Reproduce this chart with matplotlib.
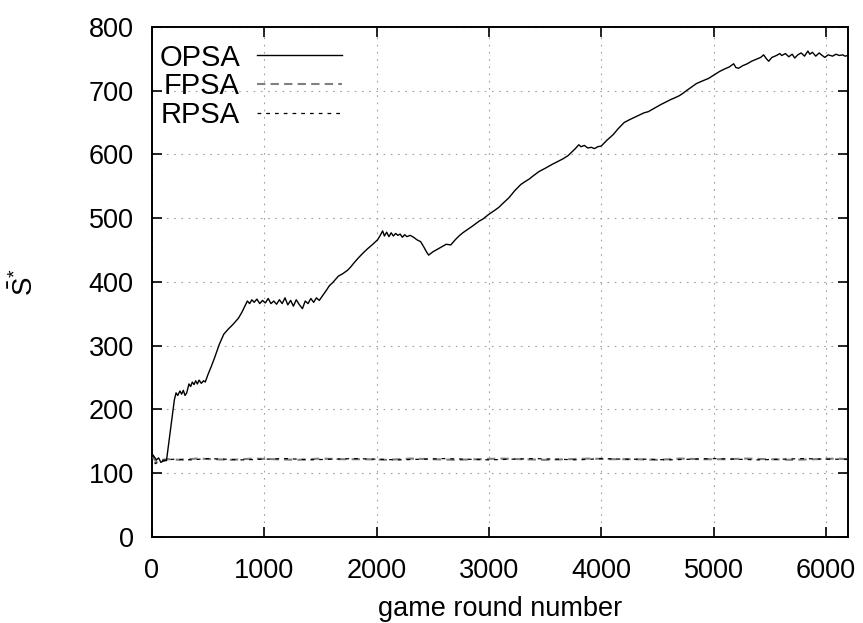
import matplotlib
matplotlib.use("Agg")
import matplotlib.pyplot as plt

plt.rcParams['font.family'] = ['Liberation Sans', 'DejaVu Sans']
plt.rcParams['mathtext.fontset'] = 'custom'
plt.rcParams['mathtext.rm'] = 'Liberation Sans'
plt.rcParams['mathtext.it'] = 'Liberation Sans'

# --- series: average score per game round ---
opsa_x = [0, 20, 40, 60, 80, 100, 130, 170, 200, 215, 230, 250, 265, 280, 295, 310,
          330, 345, 360, 375, 390, 405, 420, 440, 460, 475, 500, 530, 560, 600, 640,
          680, 720, 770, 800, 830, 850, 870, 890, 910, 935, 960, 985, 1010, 1035,
          1060, 1085, 1110, 1135, 1160, 1185, 1210, 1235, 1260, 1285, 1310, 1340,
          1365, 1390, 1415, 1440, 1465, 1490, 1518, 1550, 1580, 1610, 1640, 1660,
          1700, 1740, 1768, 1800, 1840, 1884, 1920, 1960, 2009, 2030, 2054, 2070,
          2090, 2110, 2130, 2150, 2170, 2190, 2210, 2230, 2250, 2270, 2300, 2330,
          2360, 2393, 2420, 2445, 2464, 2500, 2540, 2580, 2620, 2661, 2700, 2740,
          2768, 2800, 2850, 2911, 2950, 3000, 3050, 3089, 3130, 3179, 3230, 3286,
          3320, 3357, 3400, 3446, 3500, 3560, 3616, 3660, 3705, 3740, 3770, 3800,
          3820, 3850, 3880, 3911, 3940, 3970, 4000, 4050, 4107, 4150, 4205, 4260,
          4320, 4380, 4420, 4480, 4530, 4563, 4620, 4660, 4696, 4730, 4760, 4800,
          4848, 4900, 4955, 5000, 5054, 5100, 5140, 5179, 5200, 5223, 5260, 5300,
          5339, 5380, 5420, 5446, 5470, 5491, 5520, 5560, 5590, 5607, 5640, 5670,
          5700, 5723, 5750, 5780, 5810, 5840, 5857, 5880, 5910, 5940, 5960, 5991,
          6020, 6060, 6090, 6120, 6150, 6170, 6200]
opsa_y = [131, 126, 121, 124, 117, 119, 120, 175, 215, 226, 222, 229, 224, 230, 222, 226,
          240, 236, 243, 239, 245, 240, 246, 241, 245, 243, 255, 268, 282, 302, 318,
          326, 333, 343, 352, 363, 370, 366, 372, 368, 373, 366, 371, 367, 374,
          366, 370, 365, 372, 366, 375, 364, 371, 362, 372, 365, 358,
          370, 366, 374, 368, 375, 371, 378, 386, 394, 399, 405, 409,
          413, 418, 423, 430, 438, 446, 452, 458, 466, 472, 480, 472,
          478, 471, 477, 472, 476, 473, 475, 470, 474, 471, 473, 470,
          466, 463, 455, 447, 442, 447, 451, 455, 459, 458, 466, 473,
          477, 481, 487, 495, 499, 506, 512, 517, 524, 532, 543, 553,
          557, 561, 567, 573, 578, 584, 589, 593, 598, 604, 609, 615,
          612, 614, 610, 611, 609, 612, 613, 622, 631, 640, 650, 655,
          660, 665, 667, 673, 678, 681, 686, 689, 692, 696, 700, 705,
          711, 715, 719, 724, 730, 734, 737, 742, 736, 735, 739, 742,
          746, 749, 752, 756, 750, 746, 752, 755, 758, 755, 758, 753,
          757, 751, 756, 759, 754, 762, 757, 760, 754, 759, 756, 752,
          756, 754, 757, 755, 756, 754, 755]

fpsa_x = [0, 40, 80, 150, 250, 400, 550, 700, 900, 1100, 1300, 1500, 1700, 1900, 2100,
          2300, 2500, 2700, 2900, 3100, 3300, 3500, 3700, 3900, 4100, 4300, 4500,
          4700, 4900, 5100, 5300, 5500, 5700, 5900, 6100, 6200]
fpsa_y = [127, 118, 121, 122, 121, 123, 122, 121, 123, 122, 121, 123, 122, 122, 121,
          123, 122, 121, 122, 123, 122, 121, 122, 123, 122, 122, 121,
          123, 122, 122, 123, 122, 121, 122, 123, 122]

rpsa_x = [0, 30, 70, 120, 200, 350, 500, 650, 800, 1000, 1200, 1400, 1600, 1800, 2000,
          2200, 2400, 2600, 2800, 3000, 3200, 3400, 3600, 3800, 4000, 4200, 4400,
          4600, 4800, 5000, 5200, 5400, 5600, 5800, 6000, 6200]
rpsa_y = [130, 115, 119, 121, 122, 121, 123, 122, 121, 122, 123, 121, 122, 123, 122,
          121, 122, 123, 122, 121, 122, 123, 122, 121, 123, 122, 122,
          121, 122, 123, 122, 121, 122, 123, 122, 122]

fig = plt.figure(figsize=(8.63, 6.23), dpi=100)
ax = fig.add_axes([0.176, 0.138, 0.807, 0.819])

ax.plot(opsa_x, opsa_y, color='black', lw=1.0, label='OPSA', zorder=4)
ax.plot(fpsa_x, fpsa_y, color='#808080', lw=1.5, linestyle=(0, (4, 2.5)), label='FPSA', zorder=3)
ax.plot(rpsa_x, rpsa_y, color='black', lw=0.9, linestyle=(0, (3, 4)), label='RPSA', zorder=3)

ax.set_xlim(0, 6200)
ax.set_ylim(0, 800)
ax.set_xticks(range(0, 6001, 1000))
ax.set_yticks(range(0, 801, 100))

ax.grid(True, color='#a0a0a0', lw=0.8, linestyle=(0, (1.5, 5)))
ax.tick_params(direction='in', length=7, width=1.2, top=True, right=True,
               labelsize=19.5)
ax.tick_params(axis='x', pad=15)
ax.tick_params(axis='y', pad=13)
for s in ax.spines.values():
    s.set_linewidth(1.4)

ax.set_xlabel('game round number', fontsize=19.5, labelpad=9)
ax.set_ylabel(r'$\bar{\mathrm{S}}^{*}$', fontsize=20, labelpad=36)

# gnuplot-style key: labels right-aligned, samples to the right
ax.legend(loc='upper left', bbox_to_anchor=(0.0105, 0.967), frameon=False,
          markerfirst=False, fontsize=21, handlelength=2.9, handletextpad=0.6,
          labelspacing=0.02, borderpad=0, borderaxespad=0)

fig.savefig('out.png', dpi=100)
